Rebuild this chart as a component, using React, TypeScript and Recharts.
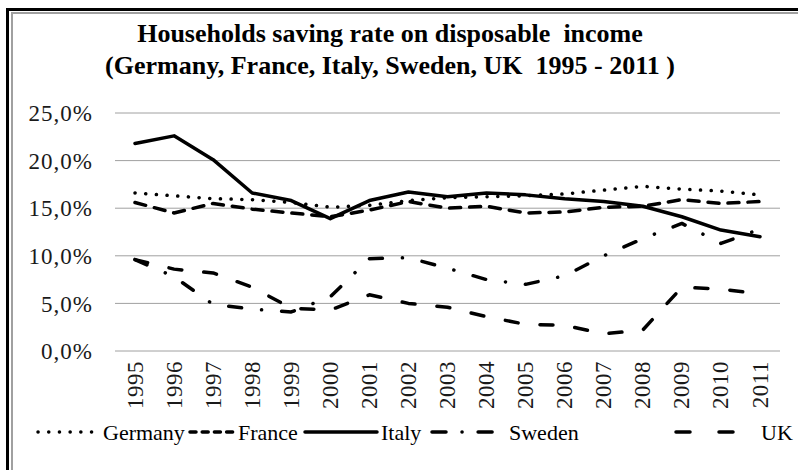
import { CartesianGrid, Legend, Line, LineChart, XAxis, YAxis } from "recharts";

const years = ["1995", "1996", "1997", "1998", "1999", "2000", "2001", "2002", "2003", "2004", "2005", "2006", "2007", "2008", "2009", "2010", "2011"];
const germany = [16.6, 16.3, 16.0, 15.9, 15.6, 15.1, 15.3, 15.8, 16.1, 16.2, 16.3, 16.5, 16.9, 17.3, 17.0, 16.8, 16.4];
const france = [15.6, 14.5, 15.5, 14.9, 14.5, 14.1, 14.8, 15.7, 15.0, 15.2, 14.5, 14.6, 15.1, 15.2, 15.9, 15.5, 15.7];
const italy = [21.8, 22.6, 20.1, 16.6, 15.8, 13.9, 15.8, 16.7, 16.2, 16.6, 16.4, 16.0, 15.7, 15.2, 14.1, 12.7, 12.0];
const sweden = [9.6, 7.8, 4.9, 4.4, 4.1, 5.7, 9.7, 9.8, 8.7, 7.5, 7.0, 7.9, 10.0, 11.8, 13.4, 11.3, 12.8];
const uk = [9.6, 8.6, 8.2, 6.7, 4.5, 4.3, 5.9, 5.0, 4.6, 3.6, 2.8, 2.7, 1.8, 2.2, 6.7, 6.5, 6.0];
const yTicks = [0, 5, 10, 15, 20, 25];

const data = years.map((year, i) => ({
  year,
  germany: germany[i],
  france: france[i],
  italy: italy[i],
  sweden: sweden[i],
  uk: uk[i],
}));

// line styles; legend samples use their own (tighter) dash patterns like the original
const series = [
  { key: "germany", name: "Germany", dash: "0.1 10.6", legendDash: "0.1 10.6", sample: [34, 70], text: 103 },
  { key: "france", name: "France", dash: "11 9", legendDash: "6 6.2", sample: [186, 52], text: 238 },
  { key: "italy", name: "Italy", dash: undefined, legendDash: undefined, sample: [301, 78], text: 381 },
  { key: "sweden", name: "Sweden", dash: "13 20 0.1 20", legendDash: "14 16 0.1 16", sample: [428, 80], text: 509 },
  { key: "uk", name: "UK", dash: "13 22", legendDash: "14 29", sample: [672, 66], text: 761 },
];

const pct = (v: number) => v.toFixed(1).replace(".", ",") + "%";

function YearTick(props: any) {
  const { x, payload } = props;
  const y = 361;
  return (
    <text
      x={x}
      y={y}
      transform={`rotate(-90 ${x} ${y})`}
      textAnchor="end"
      dominantBaseline="central"
      fontFamily="Liberation Serif"
      fontSize={23}
      letterSpacing={0.5}
      fill="#1a1a1a"
    >
      {payload.value}
    </text>
  );
}

function LegendRow() {
  return (
    <div style={{ position: "relative", height: 0, width: 798 }}>
      {series.map((s) => (
        <div key={s.key}>
          <svg
            width={s.sample[1]}
            height={10}
            style={{ position: "absolute", left: s.sample[0], top: 427 }}
          >
            <line
              x1={4}
              y1={5}
              x2={s.sample[1] - 2}
              y2={5}
              stroke="#000"
              strokeWidth={3.5}
              strokeLinecap="round"
              strokeDasharray={s.legendDash}
            />
          </svg>
          <span
            style={{
              position: "absolute",
              left: s.text,
              top: 420,
              fontFamily: "Liberation Serif",
              fontSize: 22,
              lineHeight: "26px",
              color: "#000",
              whiteSpace: "nowrap",
            }}
          >
            {s.name}
          </span>
        </div>
      ))}
    </div>
  );
}

export default function App() {
  return (
    <div style={{ position: "absolute", left: 0, top: 0, width: 798, height: 470, background: "#fff", overflow: "hidden" }}>
      <div style={{ position: "absolute", left: 6, top: 8, width: 792, height: 3, background: "#000" }} />
      <div style={{ position: "absolute", left: 6, top: 8, width: 3, height: 462, background: "#000" }} />
      <div style={{ position: "absolute", left: 11, top: 12, width: 787, height: 2, background: "#a0a0a0" }} />
      <div style={{ position: "absolute", left: 11, top: 12, width: 2, height: 458, background: "#a0a0a0" }} />
      <div
        style={{
          position: "absolute",
          left: 0,
          top: 18,
          width: 780,
          textAlign: "center",
          fontFamily: "Liberation Serif",
          fontWeight: "bold",
          fontSize: 26,
          lineHeight: "32px",
          color: "#000",
        }}
      >
        <div>Households saving rate on disposable&nbsp; income</div>
        <div>(Germany, France, Italy, Sweden, UK&nbsp; 1995 - 2011 )</div>
      </div>
      <div style={{ position: "absolute", left: 0, top: 0 }}>
        <LineChart width={798} height={470} data={data} margin={{ top: 113, right: 18, left: 0, bottom: 0 }}>
          <CartesianGrid stroke="#a0a0a0" vertical={false} />
          <XAxis
            dataKey="year"
            interval={0}
            axisLine={false}
            tickLine={false}
            tickSize={0}
            padding={{ left: 20, right: 20 }}
            height={119}
            tick={<YearTick />}
          />
          <YAxis
            domain={[0, 25]}
            ticks={yTicks}
            tickFormatter={(v) => pct(Number(v))}
            axisLine={false}
            tickLine={false}
            tickSize={0}
            tickMargin={22}
            width={115}
            tick={{ fill: "#1a1a1a", fontSize: 23, fontFamily: "Liberation Serif", letterSpacing: 1 }}
          />
          <Legend
            verticalAlign="bottom"
            content={() => <LegendRow />}
            wrapperStyle={{ left: 0, top: 0, bottom: "auto", width: 798, height: 0 }}
          />
          {series.map((s) => (
            <Line
              key={s.key}
              dataKey={s.key}
              name={s.name}
              type="linear"
              stroke="#000"
              strokeWidth={3.5}
              strokeLinecap="round"
              strokeLinejoin="round"
              strokeDasharray={s.dash}
              dot={false}
              activeDot={false}
              isAnimationActive={false}
            />
          ))}
        </LineChart>
      </div>
    </div>
  );
}
